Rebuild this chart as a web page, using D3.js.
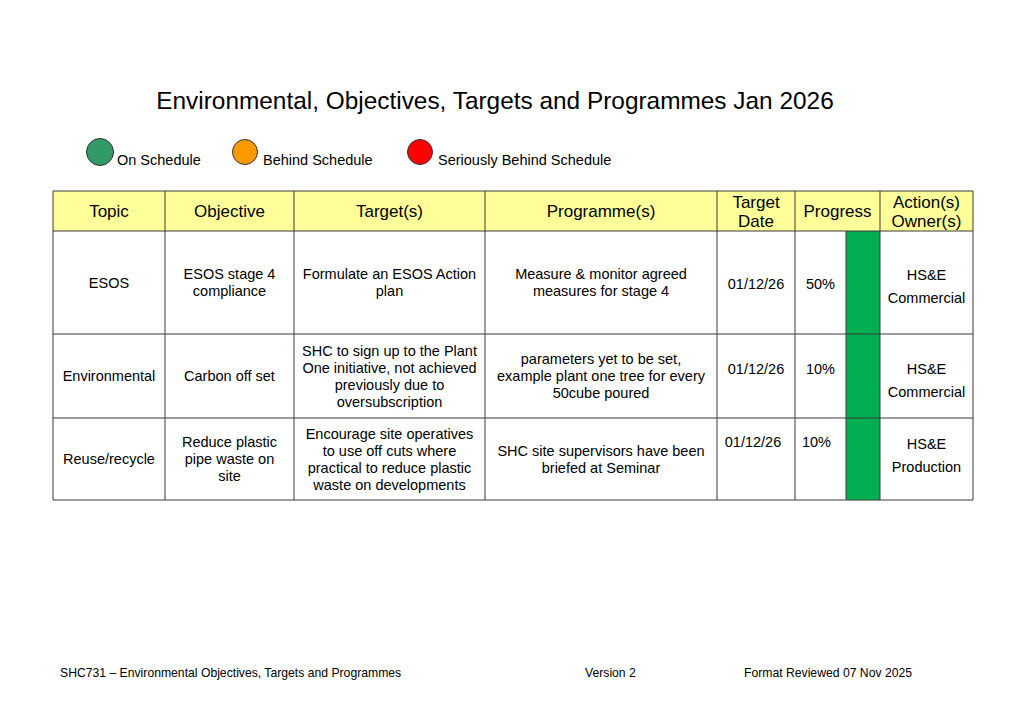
<!DOCTYPE html>
<html>
<head>
<meta charset="utf-8">
<script src="https://cdn.jsdelivr.net/npm/d3@7"></script>
<style>
  body { margin: 0; background: #fff; }
  svg { display: block; font-family: "Liberation Sans", Arial, sans-serif; }
</style>
</head>
<body>
<div id="app"></div>
<script>
//======
// Data
//======

var title = "Environmental, Objectives, Targets and Programmes Jan 2026";

var legendLabels = ["On Schedule", "Behind Schedule", "Seriously Behind Schedule"];
var legendColors = ["#339966", "#ff9900", "#ff0000"];

var headers = [["Topic"], ["Objective"], ["Target(s)"], ["Programme(s)"], ["Target", "Date"], ["Progress"], ["Action(s)", "Owner(s)"]];

var topics = ["ESOS", "Environmental", "Reuse/recycle"];
var objectives = [
  ["ESOS stage 4", "compliance"],
  ["Carbon off set"],
  ["Reduce plastic", "pipe waste on", "site"]
];
var targets = [
  ["Formulate an ESOS Action", "plan"],
  ["SHC to sign up to the Plant", "One initiative, not achieved", "previously due to", "oversubscription"],
  ["Encourage site operatives", "to use off cuts where", "practical to reduce plastic", "waste on developments"]
];
var programmes = [
  ["Measure & monitor agreed", "measures for stage 4"],
  ["parameters yet to be set,", "example plant one tree for every", "50cube poured"],
  ["SHC site supervisors have been", "briefed at Seminar"]
];
var targetDates = ["01/12/26", "01/12/26", "01/12/26"];
var progress = ["50%", "10%", "10%"];
var statusIdx = [0, 0, 0]; // index into legend: all on schedule
var owners = [["HS&E", "Commercial"], ["HS&E", "Commercial"], ["HS&E", "Production"]];

var footer = ["SHC731 \u2013 Environmental Objectives, Targets and Programmes", "Version 2", "Format Reviewed 07 Nov 2025"];

//========
// Layout
//========

var width = 1024, height = 722;
var tableLeft = 53;
var colWidths = [112, 129, 191, 232, 78, 51, 34, 93];   // progress text + status swatch
var rowHeights = [40, 103, 84, 82];                      // header + 3 rows
var tableTop = 191;
var lineH = 17;
var bodySize = 14.5;
// first-line centre offsets for the short columns (as laid out in the source)
var dateTop = [53, 35, 24];
var ownerTop = [44, 35, 26];

var colEdges = [tableLeft].concat(Array.from(d3.cumsum(colWidths), function(d) { return tableLeft + d; }));
var rowEdges = [tableTop].concat(Array.from(d3.cumsum(rowHeights), function(d) { return tableTop + d; }));

var x = d3.scaleOrdinal().domain(d3.range(colEdges.length)).range(colEdges);
var y = d3.scaleOrdinal().domain(d3.range(rowEdges.length)).range(rowEdges);

var svg = d3.select("#app").append("svg")
  .attr("width", width)
  .attr("height", height);

// Title
svg.append("text")
  .attr("x", 495)
  .attr("y", 109)
  .attr("text-anchor", "middle")
  .attr("font-size", 24.4)
  .text(title);

// Legend
var legendX = [100, 245, 420];
var legend = svg.append("g").selectAll("g")
  .data(legendLabels)
  .enter().append("g")
  .attr("transform", function(d, i) { return "translate(" + legendX[i] + ",152)"; });

legend.append("circle")
  .attr("r", function(d, i) { return i == 0 ? 13.5 : 12.5; })
  .attr("fill", function(d, i) { return legendColors[i]; })
  .attr("stroke", "#333")
  .attr("stroke-width", 1);

legend.append("text")
  .attr("x", function(d, i) { return i == 0 ? 17 : 18; })
  .attr("y", 13)
  .attr("font-size", 14.5)
  .text(function(d) { return d; });

//=======
// Table
//=======

var table = svg.append("g");

// header background
table.append("rect")
  .attr("x", x(0))
  .attr("y", y(0))
  .attr("width", x(8) - x(0))
  .attr("height", y(1) - y(0))
  .attr("fill", "#ffff99");

// status swatches
table.selectAll("rect.status")
  .data(statusIdx)
  .enter().append("rect")
  .attr("class", "status")
  .attr("x", x(6))
  .attr("y", function(d, i) { return y(i + 1); })
  .attr("width", x(7) - x(6))
  .attr("height", function(d, i) { return y(i + 2) - y(i + 1); })
  .attr("fill", "#00b050");

// grid lines
var lineColor = "#3a3a3a";
table.selectAll("line.h")
  .data(rowEdges)
  .enter().append("line")
  .attr("class", "h")
  .attr("x1", x(0)).attr("x2", x(8))
  .attr("y1", function(d) { return d; }).attr("y2", function(d) { return d; })
  .attr("stroke", lineColor);

table.selectAll("line.v")
  .data(colEdges)
  .enter().append("line")
  .attr("class", "v")
  .attr("x1", function(d) { return d; }).attr("x2", function(d) { return d; })
  .attr("y1", function(d, i) { return i == 6 ? y(1) : y(0); })
  .attr("y2", y(4))
  .attr("stroke", lineColor);

// multi-line text helper, lines centred on cy
function cellText(g, lines, cx, cy, size, gap) {
  var t = g.append("text")
    .attr("text-anchor", "middle")
    .attr("font-size", size);
  var first = cy - (lines.length - 1) * gap / 2;
  lines.forEach(function(l, i) {
    t.append("tspan")
      .attr("x", cx)
      .attr("y", first + i * gap + size * 0.36)
      .text(l);
  });
  return t;
}

// header text: Progress spans the text and swatch columns
var headerCols = [[0, 1], [1, 2], [2, 3], [3, 4], [4, 5], [5, 7], [7, 8]];
headers.forEach(function(h, i) {
  var c = headerCols[i];
  cellText(table, h, (x(c[0]) + x(c[1])) / 2, (y(0) + y(1)) / 2, 17, 19);
});

// body
function mid(c) { return (x(c) + x(c + 1)) / 2; }
function rowMid(r) { return (y(r + 1) + y(r + 2)) / 2; }

topics.forEach(function(d, r) {
  cellText(table, [d], mid(0), rowMid(r), bodySize, lineH);
  cellText(table, objectives[r], mid(1), rowMid(r), bodySize, lineH);
  cellText(table, targets[r], mid(2), rowMid(r), bodySize, lineH);
  cellText(table, programmes[r], mid(3), rowMid(r), bodySize, lineH);
  cellText(table, [targetDates[r]], mid(4) - (r == 2 ? 3 : 0), y(r + 1) + dateTop[r], bodySize, lineH);
  cellText(table, [progress[r]], mid(5) - (r == 2 ? 4 : 0), y(r + 1) + dateTop[r], bodySize, lineH);
  cellText(table, owners[r].slice(0, 1), mid(7), y(r + 1) + ownerTop[r], bodySize, lineH);
  cellText(table, owners[r].slice(1), mid(7), y(r + 1) + ownerTop[r] + 23, bodySize, lineH);
});

// Footer
var footerX = [60, 585, 744];
svg.append("g").selectAll("text")
  .data(footer)
  .enter().append("text")
  .attr("x", function(d, i) { return footerX[i]; })
  .attr("y", 677)
  .attr("font-size", 12.2)
  .text(function(d) { return d; });
</script>
</body>
</html>
